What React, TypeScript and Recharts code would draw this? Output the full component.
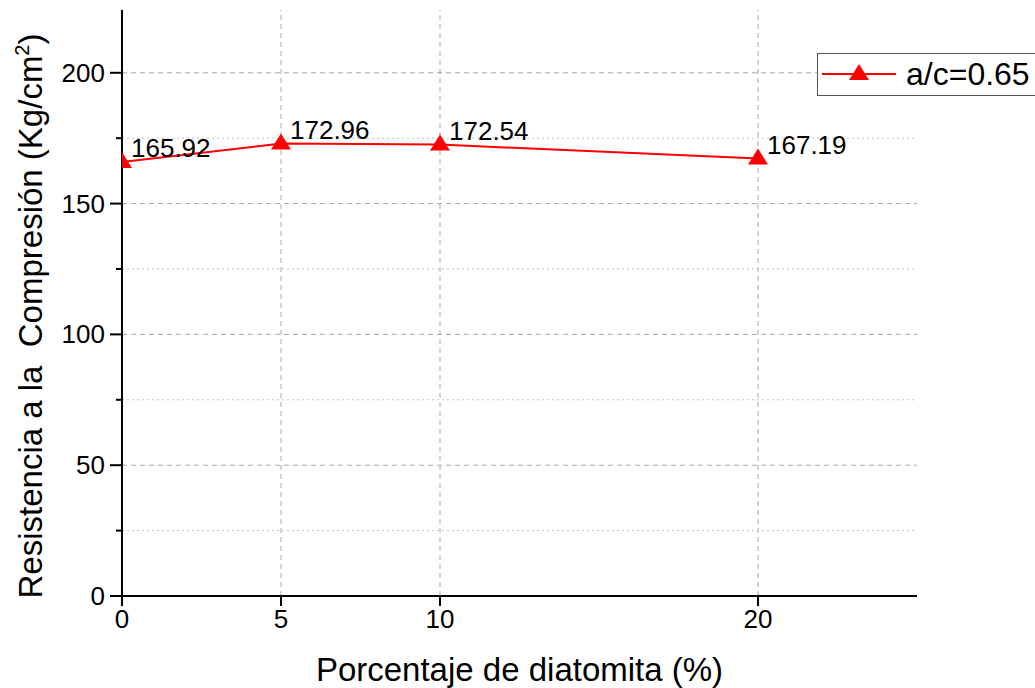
import { LineChart, Line, XAxis, YAxis, ReferenceLine, LabelList, Legend } from 'recharts';

const diatomita = [0, 5, 10, 20];
const resistencia = [165.92, 172.96, 172.54, 167.19];
const serie = 'a/c=0.65';

const xTicks = [0, 5, 10, 20];
const yTicks = [0, 25, 50, 75, 100, 125, 150, 175, 200];
const yMajor = [50, 100, 150, 200];
const yMinor = [25, 75, 125, 175];
const xGrid = [5, 10, 20];

const data = diatomita.map((d, i) => ({ x: d, y: resistencia[i] }));

const FONT = '"Liberation Sans", Arial, sans-serif';
const RED = '#ff0000';

const Triangle = ({ cx, cy }: any) => {
  if (cx == null || cy == null) return null;
  return <path d={`M${cx},${cy - 10} L${cx + 10},${cy + 6} L${cx - 10},${cy + 6} Z`} fill={RED} />;
};

const YTick = ({ x, y, payload }: any) => {
  const axisX = x + 12 + 5;
  const major = payload.value % 50 === 0;
  return (
    <g>
      <line x1={axisX - (major ? 12 : 6)} x2={axisX} y1={y} y2={y} stroke="#000" strokeWidth={2} />
      {major && (
        <text x={x} y={y} dy={9} textAnchor="end" fontSize={26} fontFamily={FONT} fill="#000">
          {payload.value}
        </text>
      )}
    </g>
  );
};

const ValueLabel = ({ x, y, value }: any) => (
  <text x={x + 9} y={y - 5} fontSize={26} fontFamily={FONT} fill="#000">
    {value}
  </text>
);

const LegendBox = () => (
  <div
    style={{
      display: 'flex',
      alignItems: 'center',
      width: 225,
      height: 41,
      border: '1px solid #555',
      background: '#fff',
      fontFamily: FONT,
      fontSize: 32,
      color: '#000',
    }}
  >
    <svg width={82} height={41}>
      <line x1={4} x2={78} y1={20} y2={20} stroke={RED} strokeWidth={2} />
      <path d="M41,10 L51,26 L31,26 Z" fill={RED} />
    </svg>
    <span style={{ marginLeft: 6 }}>{serie}</span>
  </div>
);

export default function App() {
  return (
    <div style={{ position: 'absolute', left: 0, top: 0, width: 1035, height: 688, overflow: 'hidden', background: '#fff' }}>
      <LineChart width={1035} height={688} data={data} margin={{ top: 10, right: 118, bottom: 0, left: 0 }}>
        <XAxis
          dataKey="x"
          type="number"
          domain={[0, 25]}
          ticks={xTicks}
          allowDataOverflow
          height={92}
          tickSize={10}
          tickMargin={4}
          axisLine={{ stroke: '#000', strokeWidth: 2 }}
          tickLine={{ stroke: '#000', strokeWidth: 2 }}
          tick={{ fontSize: 26, fontFamily: FONT, fill: '#000' }}
          label={{ value: 'Porcentaje de diatomita (%)', position: 'insideBottom', offset: 7, fontSize: 33, fontFamily: FONT, fill: '#000' }}
        />
        <YAxis
          type="number"
          domain={[0, 224]}
          ticks={yTicks}
          allowDataOverflow
          width={122}
          tickSize={12}
          tickMargin={5}
          axisLine={{ stroke: '#000', strokeWidth: 2 }}
          tickLine={false}
          tick={<YTick />}
          label={{
            content: () => (
              <text x={42} y={316} transform="rotate(-90 42 316)" textAnchor="middle" fontSize={33} fontFamily={FONT} fill="#000" style={{ whiteSpace: 'pre' }}>
                {'Resistencia a la\u00a0 Compresión (Kg/cm'}
                <tspan fontSize={20} dy={-13}>2</tspan>
                <tspan dy={13}>)</tspan>
              </text>
            ),
          }}
        />
        {yMinor.map((v) => (
          <ReferenceLine key={'mi' + v} y={v} stroke="#c4c4c4" strokeWidth={1} strokeDasharray="2 3" />
        ))}
        {yMajor.map((v) => (
          <ReferenceLine key={'ma' + v} y={v} stroke="#a8a8a8" strokeWidth={1} strokeDasharray="5 4" />
        ))}
        {xGrid.map((v) => (
          <ReferenceLine key={'vx' + v} x={v} stroke="#a8a8a8" strokeWidth={1} strokeDasharray="5 4" />
        ))}
        <Legend
          layout="horizontal"
          verticalAlign="middle"
          align="center"
          content={<LegendBox />}
          wrapperStyle={{ left: 817, top: 53, width: 230, height: 43 }}
        />
        <Line
          dataKey="y"
          name={serie}
          stroke={RED}
          strokeWidth={2}
          dot={<Triangle />}
          activeDot={false}
          isAnimationActive={false}
        >
          <LabelList dataKey="y" content={<ValueLabel />} />
        </Line>
      </LineChart>
    </div>
  );
}
